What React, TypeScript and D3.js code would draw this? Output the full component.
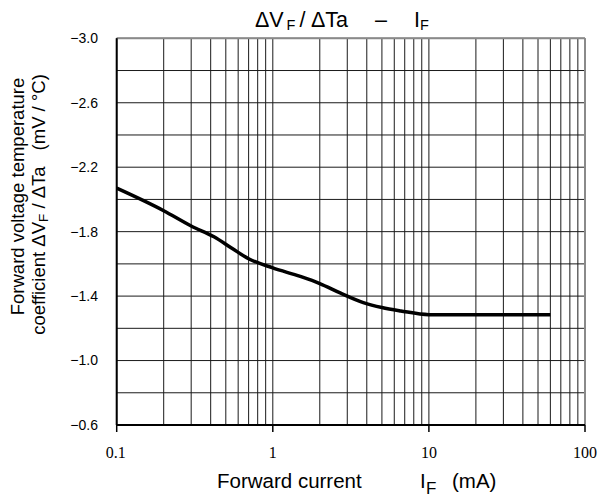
import React from "react";
import * as d3 from "d3";

const current = [0.1, 0.2, 0.3, 0.42, 0.55, 0.7, 1, 1.5, 2, 2.7, 3.8, 5, 6.6, 10, 60];
const coefficient = [-2.07, -1.93, -1.835, -1.768, -1.695, -1.632, -1.575, -1.522, -1.478, -1.42, -1.36, -1.329, -1.308, -1.285, -1.285];
const xTicks = [0.1, 1, 10, 100];
const xTickLabels = ["0.1", "1", "10", "100"];
const yTicks = [-3.0, -2.6, -2.2, -1.8, -1.4, -1.0, -0.6];
const yTickLabels = ["\u22123.0", "\u22122.6", "\u22122.2", "\u22121.8", "\u22121.4", "\u22121.0", "\u22120.6"];

const W = 598;
const H = 497;
const L = 116.7, R = 585, T = 38.3, B = 425;
const SANS = "'Liberation Sans', Arial, sans-serif";
const SERIF = "'Liberation Serif', 'Times New Roman', serif";

export default function App() {
  const x = d3.scaleLog().domain([0.1, 100]).range([L, R]);
  const y = d3.scaleLinear().domain([-3.0, -0.6]).range([T, B]);

  const vGrid: number[] = [];
  for (let k = -1; k <= 1; k++) {
    for (let m = 1; m <= 9; m++) vGrid.push(m * Math.pow(10, k));
  }
  vGrid.push(100);
  const hGrid = d3.range(0, 13).map((i) => -3.0 + i * 0.2);

  const pts = current.map((c, i) => [c, coefficient[i]] as [number, number]);
  const line = d3
    .line<[number, number]>()
    .x((d) => x(d[0]))
    .y((d) => y(d[1]))
    .curve(d3.curveMonotoneX);

  return (
    <svg
      width={W}
      height={H}
      style={{ position: "absolute", left: 0, top: 0, background: "#fff" }}
    >
      <rect x={0} y={0} width={W} height={H} fill="#fff" />
      {/* grid */}
      {vGrid.map((v, i) => (
        <line key={"v" + i} x1={x(v)} x2={x(v)} y1={T} y2={B} stroke="#1a1a1a" strokeWidth={1} />
      ))}
      {hGrid.map((v, i) => (
        <line key={"h" + i} x1={L} x2={R} y1={y(v)} y2={y(v)} stroke="#1a1a1a" strokeWidth={1} />
      ))}
      {/* frame */}
      <line x1={L} x2={R} y1={T} y2={T} stroke="#8a8a8a" strokeWidth={2} />
      <line x1={R} x2={R} y1={T} y2={B} stroke="#8a8a8a" strokeWidth={2} />
      <line x1={L} x2={L} y1={T} y2={B} stroke="#000" strokeWidth={2} />
      <line x1={L} x2={R} y1={B} y2={B} stroke="#000" strokeWidth={2} />
      {/* x ticks */}
      {xTicks.map((v, i) => (
        <g key={"xt" + i}>
          <line x1={x(v)} x2={x(v)} y1={B} y2={B + 7} stroke="#000" strokeWidth={1.5} />
          <text x={x(v) - (i === 0 ? 1 : 0)} y={458} textAnchor="middle" fontFamily={SERIF} fontSize={16} fill="#000">
            {xTickLabels[i]}
          </text>
        </g>
      ))}
      {/* y ticks */}
      {yTicks.map((v, i) => (
        <text key={"yt" + i} x={98} y={y(v)} dy="0.35em" textAnchor="end" fontFamily={SANS} fontSize={14} fill="#000">
          {yTickLabels[i]}
        </text>
      ))}
      {/* curve */}
      <path d={line(pts) || ""} fill="none" stroke="#000" strokeWidth={3.5} strokeLinejoin="round" />
      {/* title */}
      <g fontFamily={SANS} fill="#000">
        <text x={255} y={27} fontSize={21.5}>ΔV</text>
        <text x={286.5} y={30} fontSize={14.5}>F</text>
        <text x={299.5} y={27} fontSize={21.5}>/</text>
        <text x={311} y={27} fontSize={21.5}>ΔTa</text>
        <text x={375} y={27} fontSize={21.5}>–</text>
        <text x={414} y={27} fontSize={21.5}>I</text>
        <text x={420} y={30} fontSize={14.5}>F</text>
      </g>
      {/* x label */}
      <g fontFamily={SANS} fill="#000">
        <text x={217} y={488} fontSize={20.5}>Forward current</text>
        <text x={420} y={488} fontSize={20.5}>I</text>
        <text x={426} y={494} fontSize={17}>F</text>
        <text x={452} y={488} fontSize={20.5}>(mA)</text>
      </g>
      {/* y label */}
      <g fontFamily={SANS} fill="#000" fontSize={18.5}>
        <text transform="translate(24,196.5) rotate(-90)" textAnchor="middle">
          Forward voltage temperature
        </text>
        <text transform="translate(45,204.5) rotate(-90)" textAnchor="middle">
          coefficient ΔV
          <tspan fontSize={13.5} dy={3}>F</tspan>
          <tspan dy={-3}> / ΔTa</tspan>
          <tspan dx={16}>(mV / °C)</tspan>
        </text>
      </g>
    </svg>
  );
}
